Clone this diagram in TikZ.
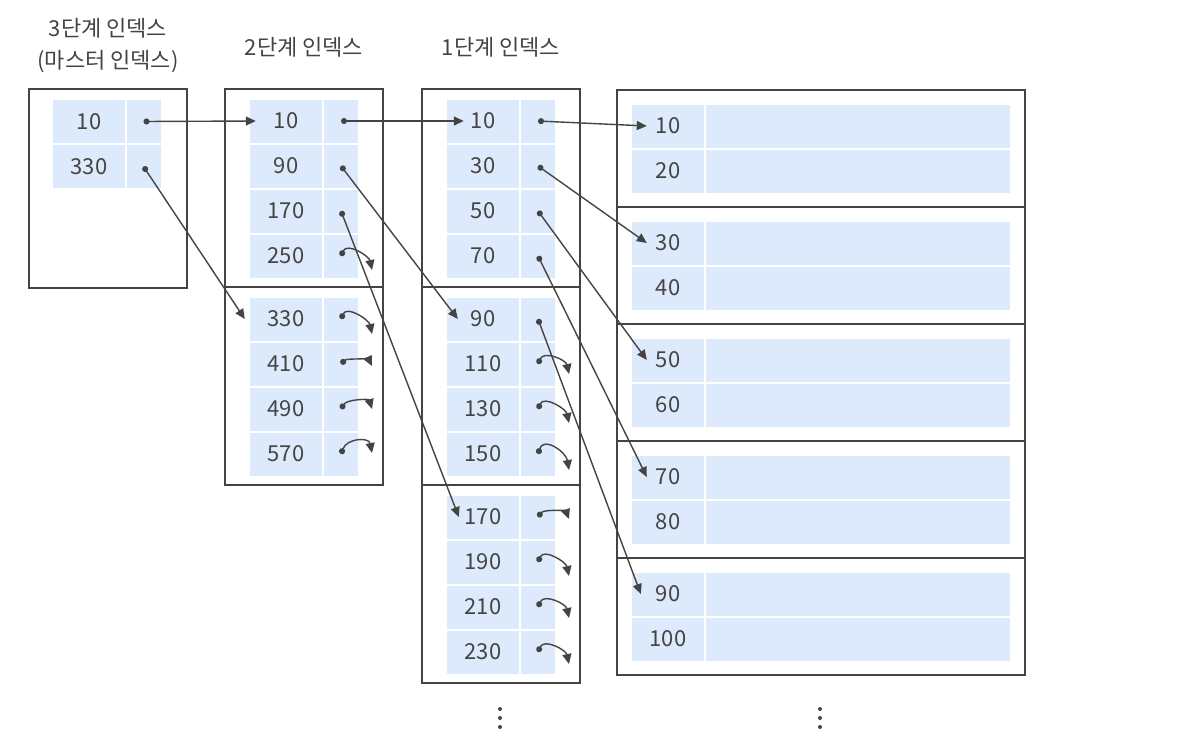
\documentclass[tikz,border=0pt]{standalone}
\usepackage{fontspec}
\usepackage{tikz}
\usetikzlibrary{arrows.meta,positioning,calc}
\newfontfamily\krfont{Noto Sans CJK KR}
\definecolor{cellblue}{RGB}{220,234,252}
\definecolor{inkgray}{RGB}{68,68,68}

\begin{document}
\begin{tikzpicture}[
      x=1pt, y=-1pt,
      idxbox/.style={rectangle, draw=inkgray, line width=2pt, inner sep=0pt,
                     minimum width=158pt, minimum height=198pt},
      databox/.style={rectangle, draw=inkgray, line width=1.1pt, inner sep=0pt,
                      minimum width=408pt, minimum height=117pt},
      keycell/.style={rectangle, fill=cellblue, inner sep=0pt,
                      minimum width=72pt, minimum height=43pt},
      ptrcell/.style={rectangle, fill=cellblue, inner sep=0pt,
                      minimum width=34pt, minimum height=43pt},
      valcell/.style={rectangle, fill=cellblue, inner sep=0pt,
                      minimum width=304pt, minimum height=43pt},
      title/.style={align=center, font=\krfont\fontsize{22}{32}\selectfont},
      link/.style={{Circle[length=6pt]}-{Triangle[length=10pt,width=9pt]},
                   line width=1.4pt, draw=inkgray},
      every node/.style={font=\krfont\fontsize{22}{26}\selectfont, text=inkgray}
    ]
      \useasboundingbox (0,0) rectangle (1200,750);
      %% Titles
      \node[title] (title3) at (108,46) {3단계 인덱스\\(마스터 인덱스)};
      \node[title] (title2) at (304,47) {2단계 인덱스};
      \node[title] (title1) at (501,47) {1단계 인덱스};
      %% Level 3 (master) index
      \node[idxbox, minimum height=199pt] (lvl3box) at (108,188.5) {};
      \foreach \key/\ypos in {10/121.5, 330/166.5}{
        \node[keycell] (lvl3k\key) at (89,\ypos) {\key};
        \node[ptrcell] (lvl3p\key) at (143.5,\ypos) {};
      }
      %% Level 2 index
      \foreach \j in {0,1}
        \node[idxbox] (lvl2box\j) at (304,188+198*\j) {};
      \foreach \key/\ypos in {10/121, 90/166, 170/211, 250/256,
                              330/319, 410/364, 490/409, 570/454}{
        \node[keycell] (lvl2k\key) at (286,\ypos) {\key};
        \node[ptrcell] (lvl2p\key) at (341,\ypos) {};
      }
      %% Level 1 index
      \foreach \j in {0,1,2}
        \node[idxbox] (lvl1box\j) at (501,188+198*\j) {};
      \foreach \key/\ypos in {10/121, 30/166, 50/211, 70/256,
                              90/319, 110/364, 130/409, 150/454,
                              170/517, 190/562, 210/607, 230/652}{
        \node[keycell] (lvl1k\key) at (483,\ypos) {\key};
        \node[ptrcell] (lvl1p\key) at (538,\ypos) {};
      }
      %% Data blocks
      \foreach \j in {0,...,4}
        \node[databox] (datablk\j) at (821,148.5+117*\j) {};
      \foreach \key/\ypos in {10/126, 20/171, 30/243, 40/288, 50/360,
                              60/405, 70/477, 80/522, 90/594, 100/639}{
        \node[keycell] (datak\key) at (668,\ypos) {\key};
        \node[valcell] (datav\key) at (858,\ypos) {};
      }
      %% Pointers between levels
      \foreach \src/\dst/\dx in {lvl3p10/lvl2k10/6, lvl3p330/lvl2k330/-5,
                                 lvl2p10/lvl1k10/17, lvl2p90/lvl1k90/11,
                                 lvl2p170/lvl1k170/12,
                                 lvl1p10/datak10/15, lvl1p30/datak30/15,
                                 lvl1p50/datak50/15, lvl1p70/datak70/15,
                                 lvl1p90/datak90/9}
        \draw[link] (\src.center) -- ([xshift=\dx pt]\dst.west);
      %% Pointers leading elsewhere
      \foreach \src/\dy/\h in {lvl2p250/14/14, lvl2p330/15/14, lvl2p410/2/6,
                               lvl2p490/0/10, lvl2p570/-1/16,
                               lvl1p110/10/14, lvl1p130/14/14, lvl1p150/16/18,
                               lvl1p170/2/8, lvl1p190/14/14, lvl1p210/11/14,
                               lvl1p230/12/14}
        \draw[link] (\src.center) .. controls +(6,-\h) and +(-3,-\h) .. ++(31,\dy);
      %% More blocks below
      \foreach \xpos in {500,820}
        \foreach \ypos in {709,718,727}
          \fill[inkgray] (\xpos,\ypos) circle (2pt);
    \end{tikzpicture}
\end{document}
